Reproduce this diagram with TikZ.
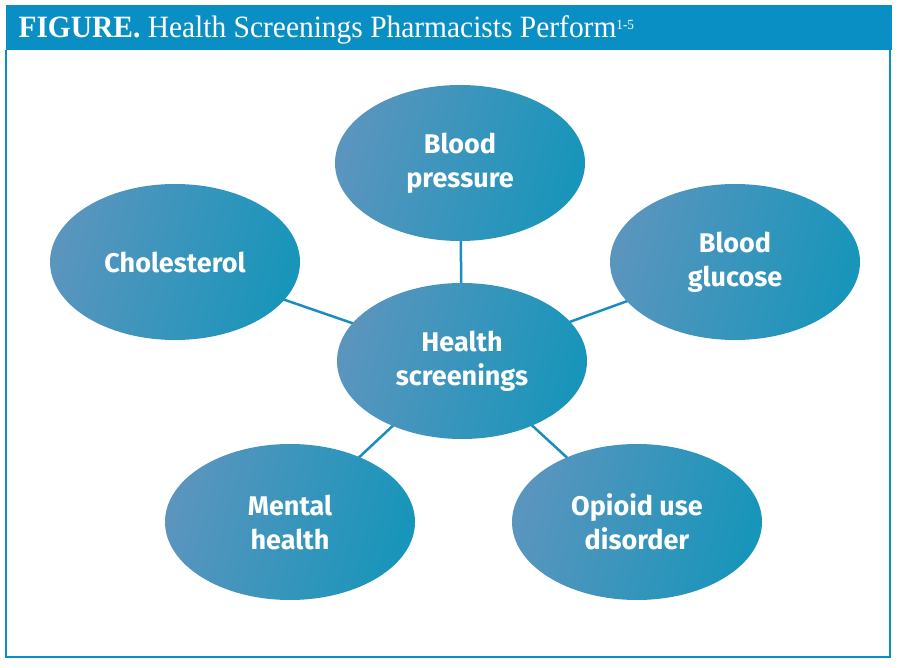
\documentclass[tikz,border=0pt]{standalone}
\usepackage{fontspec}
\setsansfont{Fira Sans}
\newfontfamily\headfont[FakeStretch=0.95]{Liberation Serif}
\usepackage{tikz}
\usetikzlibrary{shapes.geometric,backgrounds}
\definecolor{headblue}{HTML}{0A8FC4}
\definecolor{linkblue}{HTML}{1A8CC0}
\definecolor{ovalleft}{HTML}{5A95BE}
\definecolor{ovalright}{HTML}{1895BA}
\tikzset{screening/.style = {ellipse, minimum width=250pt, minimum height=156pt, inner sep=0pt, left color=ovalleft, right color=ovalright, shading angle=75, text=white, align=center, font=\sffamily\bfseries\fontsize{27}{34}\selectfont}}
\tikzset{link/.style={line width=2.5pt, draw=linkblue}}

\begin{document}
\begin{tikzpicture}[x=1pt,y=-1pt]
	\useasboundingbox (0,0) rectangle (898,668);
	% frame and heading
	\draw[headblue, line width=2pt] (6,50) -- (6,657) -- (890,657) -- (890,50);
	\fill[headblue] (6,5) rectangle (892,50);
	\node[anchor=west, text=white, font=\headfont\fontsize{31}{34}\selectfont] (title) at (15,30)
	{\textbf{FIGURE.} Health Screenings Pharmacists Perform\raisebox{8pt}{\fontsize{14}{14}\selectfont 1-5}};
	% screenings
	\node[screening] (hub) at (462,361) {Health\\screenings};
	\node[screening] (bp) at (460,163) {Blood\\pressure};
	\node[screening] (chol) at (175,262) {Cholesterol};
	\node[screening] (gluc) at (735,262) {Blood\\glucose};
	\node[screening] (mental) at (290,522) {Mental\\health};
	\node[screening] (opioid) at (637,522) {Opioid use\\disorder};
	\begin{scope}[on background layer]
		\foreach \leaf in {bp,chol,gluc,mental,opioid}
			\draw[link] (hub.center) -- (\leaf.center);
	\end{scope}
\end{tikzpicture}
\end{document}
